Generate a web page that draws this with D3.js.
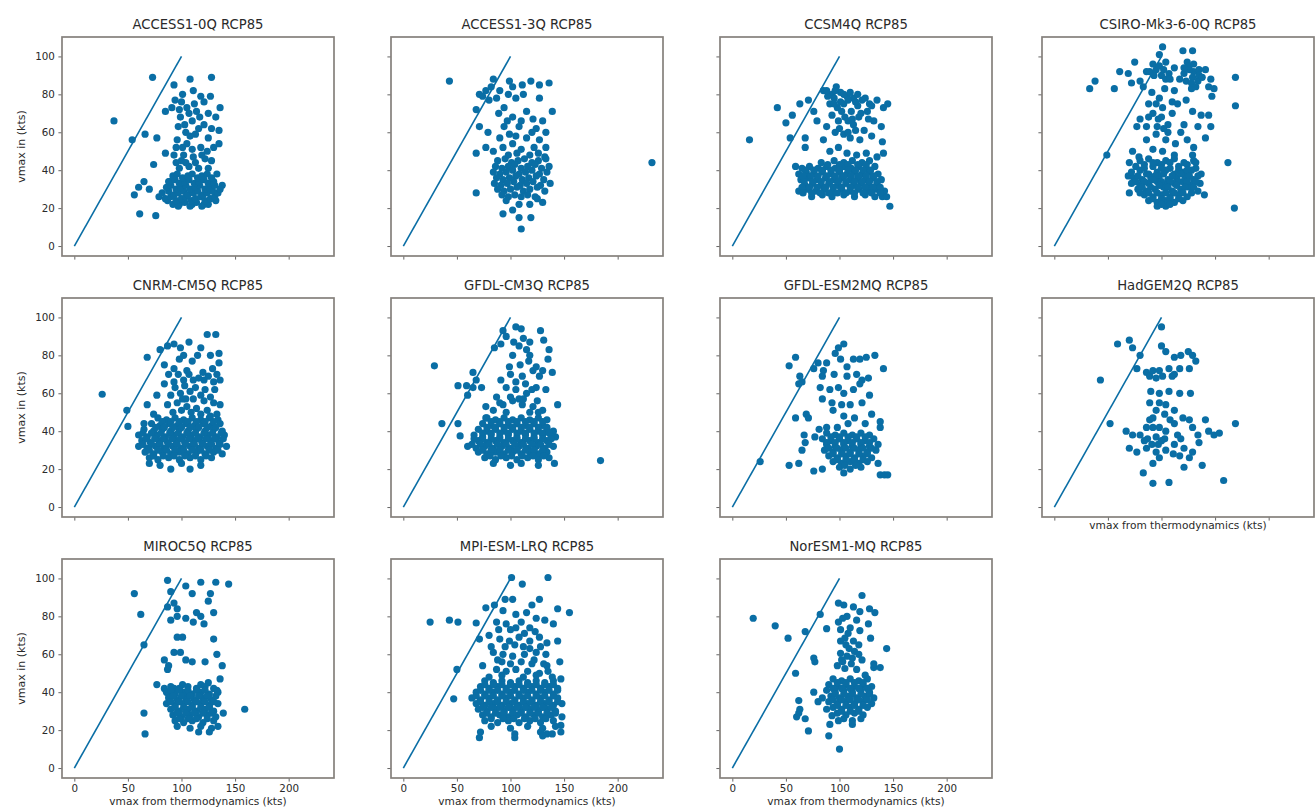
<!DOCTYPE html>
<html>
<head>
<meta charset="utf-8">
<script src="https://cdn.jsdelivr.net/npm/d3@7"></script>
<style>
  html, body { margin: 0; padding: 0; background: #ffffff; }
  svg { display: block; font-family: "DejaVu Sans", sans-serif; }
</style>
</head>
<body>
<svg id="chart" width="1315" height="810"></svg>
<script>
// Model names shown as panel titles
const titles = [
  "ACCESS1-0Q RCP85", "ACCESS1-3Q RCP85", "CCSM4Q RCP85", "CSIRO-Mk3-6-0Q RCP85",
  "CNRM-CM5Q RCP85", "GFDL-CM3Q RCP85", "GFDL-ESM2MQ RCP85", "HadGEM2Q RCP85",
  "MIROC5Q RCP85", "MPI-ESM-LRQ RCP85", "NorESM1-MQ RCP85"
];

const xTicks = [0, 50, 100, 150, 200];
const yTicks = [0, 20, 40, 60, 80, 100];
// reference 1:1 line endpoints (kts)
const oneToOne = [[0, 0], [100, 100]];

// [vmax from thermodynamics, vmax in] pairs (kts) per model
const access10 = [[37,66],[73,89],[108,88],[128,89],[93,85],[54,56],[66,59],[77,57],[85,71],[85,49],[74,43],[56,27],[60,31],[65,34],[70,30],[61,17],[76,16],[79,26],[87,24],[88,34],[98,22],[110,22],[121,22],[132,24],[138,32],[135,54],[136,73],[132,68],[135,61],[127,79],[118,79],[111,82],[101,80],[94,77],[91,73],[105,73],[114,71],[121,76],[99,68],[110,66],[121,64],[104,60],[113,59],[125,57],[96,56],[105,54],[118,52],[130,52],[93,48],[102,48],[111,47],[122,46],[98,41],[107,42],[116,41],[125,41],[133,38],
  [92,22],[97,21],[103,23],[108,21],[114,23],[119,21],[125,22],
  [85,25],[90,26],[95,24],[100,25],[104,26],[109,24],[113,25],[118,26],[122,24],[127,25],[131,26],
  [82,28],[88,29],[93,27],[97,28],[102,29],[106,27],[111,28],[115,29],[120,27],[124,28],[129,29],[134,28],
  [86,31],[90,32],[95,30],[99,31],[104,32],[108,30],[113,31],[117,32],[122,30],[126,31],[131,32],[136,30],
  [89,34],[94,35],[98,33],[103,34],[107,35],[112,33],[116,34],[121,35],[125,33],[130,34],
  [92,37],[96,38],[101,36],[106,37],[110,38],[115,36],[119,37],[124,38],[128,36],
  [97,63],[117,68],[108,58],[100,45],[119,48],[128,45],[95,52],[103,64],[125,70],[112,75],[98,72],
  [100,76],[107,70],[116,62],[128,62],[101,52],[110,51],[124,50],[104,44],[113,44],[95,44]];

const access13 = [[43,87],[232,44],[71,63],[68,72],[68,28],[84,88],[71,80],[77,82],[80,77],[87,78],[94,73],[99,87],[102,84],[105,78],[111,85],[119,87],[127,85],[136,86],[127,78],[139,71],[115,71],[102,68],[121,67],[130,66],[94,63],[108,63],[124,62],[133,60],[90,57],[99,59],[115,57],[127,56],[68,49],[77,52],[84,50],[93,52],[102,54],[110,51],[122,52],[133,52],[132,47],
  [88,45],[95,46],[101,44],[107,45],[113,46],[120,44],[126,45],[133,46],
  [86,42],[92,41],[98,42],[104,43],[110,41],[116,42],[123,43],[129,41],[136,42],
  [84,39],[90,38],[96,39],[102,40],[108,38],[114,39],[120,40],[127,38],[134,39],
  [87,36],[93,35],[99,36],[105,37],[111,35],[117,36],[124,37],[131,35],
  [85,33],[91,32],[97,33],[103,34],[109,32],[115,33],[121,34],[128,32],[137,33],
  [88,30],[94,29],[100,30],[106,31],[112,29],[118,30],[125,31],[132,29],
  [92,27],[98,26],[104,27],[110,26],[116,27],[123,26],
  [93,17],[102,19],[108,22],[110,9],[119,15],[130,23],[125,25],[108,15],[96,24],[118,22],
  [82,84],[90,82],[98,80],[112,80],[89,70],[105,58],[118,48],[74,79],[79,60],
  [98,48],[106,49],[126,49],[97,66],[110,66],[120,60]];

const ccsm4 = [[16,56],[42,73],[50,65],[56,69],[63,75],[71,77],[54,57],[68,57],[68,52],[59,42],[79,66],[76,71],
  [85,82],[93,80],[101,81],[107,79],[113,78],[121,77],[128,75],[135,77],[141,73],[145,75],[91,75],[98,73],[104,75],[111,71],[120,70],[126,71],[132,66],[139,63],[93,69],[99,66],[105,68],[113,64],[88,63],[96,60],[104,59],[110,57],[119,56],[140,55],[85,56],[91,50],[99,52],[107,49],[116,48],[125,49],[135,47],[141,49],
  [95,78],[101,76],[117,74],[108,66],[97,84],[89,79],[123,61],[130,58],
  [83,44],[95,45],[104,44],[112,45],[121,44],[128,45],
  [65,41],[72,42],[80,41],[88,42],[96,41],[104,42],[111,41],[118,42],[125,41],[133,42],
  [62,38],[69,39],[76,38],[84,39],[92,38],[100,39],[107,38],[114,39],[121,38],[128,39],[136,38],
  [64,35],[71,36],[79,35],[87,36],[95,35],[102,36],[110,35],[117,36],[124,35],[131,36],[139,35],
  [68,32],[75,33],[83,32],[90,33],[98,32],[106,33],[113,32],[120,33],[127,32],[135,33],
  [62,29],[70,30],[78,29],[86,30],[94,29],[102,30],[110,29],[118,30],[126,29],[134,30],[142,29],
  [74,26],[84,27],[93,26],[104,27],[114,26],[124,27],[133,26],[140,26],
  [144,26],[147,21],[138,29],
  [89,43],[100,43],[108,43],[117,43],[125,43],
  [68,40],[76,40],[84,40],[92,40],[100,40],[108,40],[115,40],[122,40],[129,40],
  [66,37],[73,37],[80,37],[88,37],[96,37],[104,37],[111,37],[118,37],[125,37],[132,37],
  [67,34],[75,34],[83,34],[91,34],[99,34],[106,34],[114,34],[121,34],[128,34],[135,34],
  [65,31],[72,31],[79,31],[87,31],[94,31],[102,31],[110,31],[117,31],[124,31],[131,31],[138,31],
  [66,28],[74,28],[82,28],[90,28],[98,28],[106,28],[114,28],[122,28],[130,28],[138,28],
  [88,82],[96,82],[104,80],[110,81],[117,80],[124,78],[95,75],[108,77],[115,76],[130,74],[102,71],[118,68],[112,67],[127,67],[100,62],[115,61],[108,60]];

const csiro = [[33,83],[38,87],[56,83],[61,92],[69,91],[75,97],[72,86],[80,87],[86,92],[92,96],[101,105],[98,101],[104,97],[112,94],[120,103],[129,103],[124,97],[130,92],[135,93],[141,93],[146,88],[144,84],[149,83],[147,79],[169,89],[169,74],[162,44],[168,20],[140,27],[49,48],
  [126,93],[129,89],[134,87],[121,91],[123,87],[89,92],[95,93],[100,90],[104,88],[83,84],[91,81],[98,78],[103,83],[112,82],[123,77],[129,71],[137,69],[144,69],[146,63],[134,63],[121,64],[110,70],[101,73],[92,70],[80,67],[77,63],[86,63],[95,59],[104,56],[113,54],[124,56],[130,52],[141,57],[86,56],[92,51],[73,50],[70,44],[79,47],[101,50],[112,48],[129,48],
  [70,28],[69,37],
  [80,45],[88,46],[96,44],[104,45],[112,46],[121,44],[130,45],
  [76,42],[84,41],[92,42],[100,43],[108,41],[116,42],[124,43],[132,41],
  [72,39],[80,40],[88,38],[96,39],[104,40],[112,38],[120,39],[128,40],[137,38],
  [74,36],[82,35],[90,36],[98,37],[106,35],[114,36],[122,37],[130,35],
  [72,33],[80,32],[88,33],[96,34],[104,32],[112,33],[120,34],[128,32],[136,33],
  [78,30],[86,29],[94,30],[102,31],[110,29],[118,30],[126,31],[134,29],
  [84,27],[92,26],[100,27],[108,26],[116,27],[124,26],
  [88,24],[96,23],[104,24],[112,23],[120,24],
  [96,21],[104,21],
  [107,91],[117,88],[128,83],[115,75],[106,64],[118,60],[97,67],[88,75],
  [84,43],[92,44],[100,41],[108,44],[116,40],[124,40],[132,44],
  [78,37],[86,38],[94,37],[102,38],[110,37],[118,38],[126,37],[134,37],
  [76,34],[84,34],[92,35],[100,34],[108,34],[116,34],[124,34],[132,34],
  [82,31],[90,31],[98,32],[106,31],[114,32],[122,31],[130,31],
  [80,28],[88,28],[96,28],[104,28],[112,28],[120,28],[128,28],
  [92,25],[100,25],[108,25],[116,25],[100,22],[108,22],
  [125,95],[130,96],[135,90],[128,86],[138,89],[132,84],[121,94],[93,90],[98,95],[102,93],[108,88],
  [95,75],[100,68],[106,60],[96,63],[110,76],[88,68],[102,62]];

const cnrm = [[26,59.5],[49,51],[50,42.5],[68,79],[80,83],[84,75],[87,85],[93,86],[99,84],[107,87],[102,80],[110,77],[118,84],[127,80],[124,91],[132,91],[135,81],[135,76],[93,73],[105,72],
  [68,54],[77,59],[84,65],[65,44],[74,49],
  [93,66],[102,67],[111,67],[121,67],[130,66],[136,67],[90,59],[99,60],[108,61],[118,59],[127,58],[136,54],[87,54],[96,55],[105,53],[114,52],[124,51],[133,49],
  [78,47],[86,46],[94,47],[102,46],[110,47],[118,46],[126,47],[134,46],
  [72,44],[80,43],[88,44],[96,43],[104,44],[112,43],[120,44],[128,43],[136,44],
  [65,41],[74,40],[82,41],[90,40],[98,41],[106,40],[114,41],[122,40],[130,41],[138,40],
  [60,38],[68,37],[77,38],[85,37],[93,38],[101,37],[109,38],[117,37],[125,38],[133,37],[140,38],
  [63,35],[71,34],[79,35],[87,34],[95,35],[103,34],[111,35],[119,34],[127,35],[135,34],
  [60,32],[68,31],[76,32],[84,31],[92,32],[100,31],[108,32],[116,31],[124,32],[132,31],[142,32],
  [66,29],[74,28],[82,29],[90,28],[98,29],[106,28],[114,29],[122,28],[130,29],[138,28],
  [70,26],[78,25],[88,26],[98,25],[108,26],[118,25],[128,26],
  [70,23],[80,22],[100,23],[118,22],
  [90,20],[108,20],
  [98,78],[115,80],[120,71],[88,70],[129,73],[104,57],
  [82,45],[90,45],[98,45],[106,45],[114,45],[122,45],[130,45],
  [76,42],[84,42],[92,42],[100,42],[108,42],[116,42],[124,42],[132,42],
  [64,39],[72,39],[81,39],[89,39],[97,39],[105,39],[113,39],[121,39],[129,39],[137,39],
  [67,36],[75,36],[83,36],[91,36],[99,36],[107,36],[115,36],[123,36],[131,36],[139,36],
  [64,33],[72,33],[80,33],[88,33],[96,33],[104,33],[112,33],[120,33],[128,33],[136,33],
  [70,30],[78,30],[86,30],[94,30],[102,30],[110,30],[118,30],[126,30],[134,30],
  [74,27],[83,27],[93,27],[103,27],[113,27],[123,27],
  [97,70],[107,70],[116,68],[125,69],[133,70],[94,63],[103,64],[113,63],[122,62],[131,62],[101,57],[111,57],[121,56],[130,55],[92,50],[100,51],[109,50],[118,49],[127,48]];

const gfdlcm3 = [[29,74.5],[36,44],[51,44],[53,37.5],[51,64],[59,64],[60,59],[65,71],[68,67],[73,63],[65,63],
  [85,84],[91,86],[93,93],[96,90],[105,95],[110,94],[108,85],[102,80],[115,83],[118,87],[128,93],[131,88],[136,83],[135,78],[130,72],[139,71],[144,54],[142,37],[141,23],[184,24.5],
  [91,67],[99,74],[111,69],[121,72],[127,69],[87,58],[96,63],[105,62],[115,60],[124,63],[133,62],[77,53],[84,51],[93,54],[102,56],[111,54],[121,53],[130,51],[77,47],
  [78,47],[86,46],[94,47],[102,46],[110,47],[118,46],[126,47],[134,46],
  [74,44],[82,43],[90,44],[98,43],[106,44],[114,43],[122,44],[130,43],
  [70,41],[78,40],[86,41],[94,40],[102,41],[110,40],[118,41],[126,40],[134,41],[140,40],
  [66,38],[74,37],[82,38],[90,37],[98,38],[106,37],[114,38],[122,37],[130,38],[138,37],
  [70,35],[78,34],[86,35],[94,34],[102,35],[110,34],[118,35],[126,34],[134,35],
  [60,32],[68,31],[76,32],[84,31],[92,32],[100,31],[108,32],[116,31],[124,32],[132,31],[140,32],
  [70,29],[78,28],[86,29],[94,28],[102,29],[110,28],[118,29],[126,28],[134,29],
  [76,26],[86,25],[96,26],[106,25],[116,26],[126,25],[136,26],
  [84,23],[100,22],[110,23],[126,22],
  [100,70],[117,77],[108,57],[125,56],[96,50],
  [82,45],[90,45],[98,45],[106,45],[114,45],[122,45],[130,45],
  [78,42],[86,42],[94,42],[102,42],[110,42],[118,42],[126,42],[134,42],
  [74,39],[82,39],[90,39],[98,39],[106,39],[114,39],[122,39],[130,39],[136,39],
  [66,36],[74,36],[82,36],[90,36],[98,36],[106,36],[114,36],[122,36],[130,36],[138,36],
  [64,33],[72,33],[80,33],[88,33],[96,33],[104,33],[112,33],[120,33],[128,33],[136,33],
  [74,30],[82,30],[90,30],[98,30],[106,30],[114,30],[122,30],[130,30],
  [81,27],[91,27],[101,27],[111,27],[121,27],[131,27],
  [105,66],[114,65],[120,62],[100,58],[112,57],[118,50],[126,50],[90,55],[109,75],[103,87],[118,80],[124,74],[112,89]];

const gfdlesm = [[26,24],[53,22],[62,23],[76,19],[84,20],[53,74.5],[59,79],[63,69],[62,65],[65,66],[59,47],[69,49],[71,47],
  [76,73],[80,76],[85,72],[88,76],[96,81],[104,86],[101,78],[107,74],[113,78],[119,78],[125,79],[133,80],[141,73],[107,69],[121,67],[84,69],
  [67,38],[68,34],[65,30],
  [82,63],[91,62],[99,63],[104,60],[113,62],[119,65],[128,59],[84,57],[93,55],[102,54],[110,54],[121,55],[130,49],[138,42],[138,45],[94,51],[104,48],[114,47],[124,44],[81,41],[88,42],[98,42],[77,37],
  [88,39],[96,38],[104,39],[112,38],[120,39],[128,38],
  [84,36],[92,35],[100,36],[108,35],[116,36],[124,35],[132,36],
  [88,33],[96,32],[104,33],[112,32],[120,33],[128,32],[136,33],
  [86,30],[94,29],[102,30],[110,29],[118,30],[126,29],[134,30],
  [90,27],[98,26],[106,27],[114,26],[122,27],[130,26],
  [94,24],[102,23],[110,24],[118,23],[126,24],[136,23],
  [100,21],[110,20],[120,21],
  [104,18],[138,17],[142,17],[145,17],
  [99,84],[116,70],[95,70],[127,68],[108,44],
  [92,37],[100,37],[108,37],[116,37],[124,37],
  [88,34],[96,34],[104,34],[112,34],[120,34],[128,34],
  [90,31],[98,31],[106,31],[114,31],[122,31],[130,31],
  [94,28],[102,28],[110,28],[118,28],[126,28],
  [98,25],[106,25],[114,25],[122,25],[105,22],[115,22]];

const hadgem = [[43,67],[59,86],[70,88],[73,84],[80,80],[77,73],[52,44],[100,95],[100,85],[104,82],[112,79],[118,80],[125,82],[129,80],[132,77],[126,73],[117,73],[112,70],[107,73],
  [86,71],[89,69],[95,68],[92,72],[98,72],[101,69],[110,69],
  [90,61],[98,60],[107,61],[117,60],[127,60],
  [89,55],[98,55],[104,54],[95,51],[103,49],[112,51],
  [89,46],[92,42],[98,42],[104,40],[112,44],[120,47],[126,46],[129,42],[134,38],[141,46],[144,40],[149,38],[154,39],[169,44],[67,40],[73,38],[80,38],[87,36],[95,37],[103,36],[112,33],[121,31],[129,29],[135,34],[70,31],[77,29],[86,31],[95,29],[104,30],[92,23],[98,26],[121,21],[138,22],[83,18],[92,12.5],[107,13],[158,14],
  [86,42],[84,35],[91,33],[97,33],[111,28],[117,27],[126,26],
  [115,38],[108,46],[100,35],[118,36],[92,47]];

const miroc5 = [[56,92],[62,81],[65,65],[65,29],[66,18],[87,99],[90,93],[93,87],[87,85],[96,84],[104,96],[110,92],[118,98],[127,92],[132,98],[144,97],[125,88],
  [90,78],[96,80],[104,79],[111,77],[118,80],[121,76],[114,82],[130,82],
  [96,69],[101,69],[130,68],[133,60],
  [93,61],[99,61],[104,57],[110,56],[122,56],[138,54],[84,57],[88,54],[87,52],
  [77,44],[84,42],[88,39],[93,42],[101,44],[105,40],[118,44],[125,45],[136,47],[133,41],
  [90,43],[98,42],[106,43],[114,42],[122,43],[130,42],
  [86,40],[94,39],[102,40],[110,39],[118,40],[126,39],[134,40],
  [88,37],[96,36],[104,37],[112,36],[120,37],[128,36],
  [86,34],[94,33],[102,34],[110,33],[118,34],[126,33],[134,34],
  [90,31],[98,30],[106,31],[114,30],[122,31],[130,30],
  [92,28],[100,27],[108,28],[116,27],[124,28],[132,27],
  [94,25],[102,24],[110,25],[120,24],[130,25],
  [96,22],[108,21],[118,22],[128,21],[134,22],
  [116,19],[126,19],
  [159,31],[139,29],
  [90,41],[98,41],[106,41],[114,41],[122,41],
  [92,38],[100,38],[108,38],[116,38],[124,38],[132,38],
  [90,35],[98,35],[106,35],[114,35],[122,35],[130,35],
  [94,32],[102,32],[110,32],[118,32],[126,32],
  [96,29],[104,29],[112,29],[120,29],[128,29],
  [98,26],[106,26],[114,26],[124,26]];

const mpi = [[25,77],[43,78],[51,77],[47,36.5],[50,52],[101,100.5],[111,97],[135,100.5],[155,82],[144,84],[127,89],[102,89],[77,84.5],[68,76.5],
  [85,86],[93,83],[105,81],[115,82],[124,79],[132,78],[140,76],[87,77],[96,76],[110,77],[118,74],
  [71,68],[80,70],[90,68],[99,67],[108,69],[118,67],[127,69],[134,66],[144,67],
  [84,61],[93,60],[102,59],[113,60],[124,61],[133,60],[146,56],[134,54],
  [74,54],[87,52],[96,51],[105,52],[116,51],[127,50],[139,48],[147,47],
  [76,46],[84,45],[92,46],[100,45],[108,46],[116,45],[124,46],[132,45],[140,46],
  [72,43],[80,42],[88,43],[96,42],[104,43],[112,42],[120,43],[128,42],[136,43],[144,42],
  [68,40],[76,39],[84,40],[92,39],[100,40],[108,39],[116,40],[124,39],[132,40],[140,39],
  [64,37],[72,36],[80,37],[88,36],[96,37],[104,36],[112,37],[120,36],[128,37],[136,36],[144,37],
  [68,34],[76,33],[84,34],[92,33],[100,34],[108,33],[116,34],[124,33],[132,34],[140,33],[148,34],
  [70,31],[78,30],[86,31],[94,30],[102,31],[110,30],[118,31],[126,30],[134,31],[142,30],
  [74,28],[82,27],[90,28],[98,27],[106,28],[114,27],[122,28],[130,27],[138,28],[148,27],
  [76,25],[88,24],[98,25],[108,24],[118,25],[128,24],[140,25],
  [82,22],[100,21],[116,22],[130,21],[142,22],
  [72,19],[104,18],[128,19],[134,18],[147,19],
  [147,22.5],[139,18],[130,17],[104,16],[71,16],
  [95,89],[120,86],[100,73],[112,64],[82,64],[120,55],[92,56],
  [76,44],[84,44],[92,44],[100,44],[108,44],[116,44],[124,44],[132,44],[140,44],
  [72,41],[80,41],[88,41],[96,41],[104,41],[112,41],[120,41],[128,41],[136,41],[144,41],
  [68,38],[76,38],[84,38],[92,38],[100,38],[108,38],[116,38],[124,38],[132,38],[140,38],
  [72,35],[80,35],[88,35],[96,35],[104,35],[112,35],[120,35],[128,35],[136,35],[144,35],
  [74,32],[82,32],[90,32],[98,32],[106,32],[114,32],[122,32],[130,32],[138,32],
  [78,29],[86,29],[94,29],[102,29],[110,29],[118,29],[126,29],[134,29],[142,29],
  [82,26],[93,26],[103,26],[113,26],[123,26],[133,26],
  [89,73],[105,74],[113,71],[123,72],[95,64],[104,65],[118,63],[128,64],[88,57],[100,55],[110,56],[122,57],[131,55],[80,48],[92,49],[112,48],[124,49],[135,51]];

const noresm = [[19.5,79],[40,75],[52,68.5],[68,72],[82,81],[88,73.5],[76,58],[77,56],[59,50],[62,35.6],[63,31],[68,26],[71,19.6],[90,17],[91,23],[100,10],
  [121,91],[99,87],[104,86],[113,85],[119,82.5],[128,84],[133,82],[107,80],[99,77],[110,74],[119,72.5],[127,76],[129,68.5],[105,68.5],[101,67],[113,67],[144,63],
  [101,60.5],[107,59],[114,61.5],[121,57],[98,54],[105,52.5],[116,52],[124,49],[132,53],[138,53],[132,55],
  [76,40],[80,35],[84,37],[88,31],[93,27.6],[99,25],[60,27],[62,29],
  [94,47],[102,46],[110,47],[118,46],[126,47],
  [90,44],[98,43],[106,44],[114,43],[122,44],[130,43],
  [88,41],[96,40],[104,41],[112,40],[120,41],[128,40],
  [92,38],[100,37],[108,38],[116,37],[124,38],[132,37],
  [90,35],[98,34],[106,35],[114,34],[122,35],[130,34],
  [94,32],[102,31],[110,32],[118,31],[126,32],
  [98,29],[106,28],[114,29],[122,28],
  [104,26],[112,25],[120,26],
  [112,23],
  [103,79],[116,78],[109,63],[118,65],[103,56],[111,55],
  [98,45],[106,45],[114,45],[122,45],
  [94,42],[102,42],[110,42],[118,42],[126,42],
  [96,39],[104,39],[112,39],[120,39],[128,39],
  [94,36],[102,36],[110,36],[118,36],[126,36],
  [98,33],[106,33],[114,33],[122,33],
  [102,30],[110,30],[118,30],
  [101,73],[108,71],[106,65],[112,58],[118,60],[102,57]];

const series = [access10, access13, ccsm4, csiro, cnrm, gfdlcm3, gfdlesm, hadgem, miroc5, mpi, noresm];

// ---- layout ----
const colLeft = [62, 391, 720, 1042];
const rowTop = [37, 298, 559];
const PW = 272, PH = 219;
const xDomain = [-11.5, 242.3];
const yDomain = [-5.25, 110.25];
const markColor = "#0a6ea5";
const textColor = "#2a2a2a";

const svg = d3.select("#chart");

titles.forEach((title, i) => {
  const row = Math.floor(i / 4), col = i % 4;
  const L = colLeft[col], T = rowTop[row];
  const x = d3.scaleLinear().domain(xDomain).range([L, L + PW]);
  const y = d3.scaleLinear().domain(yDomain).range([T + PH, T]);

  const g = svg.append("g");

  // is there a panel underneath this one?
  const hasBelow = (i + 4) < titles.length;
  const bottomRow = row === 2;

  // x axis
  const xAxis = d3.axisBottom(x).tickValues(xTicks).tickSize(3.6).tickPadding(3.2)
    .tickFormat(bottomRow ? d3.format("d") : () => "");
  const gx = g.append("g").attr("transform", `translate(0,${T + PH})`).call(xAxis);
  gx.select(".domain").remove();
  gx.selectAll(".tick line").attr("stroke", "#555").attr("stroke-width", 0.9);
  gx.selectAll(".tick text").attr("fill", textColor).attr("font-size", 10.3)
    .attr("font-family", "DejaVu Sans, sans-serif");

  // y axis
  const yAxis = d3.axisLeft(y).tickValues(yTicks).tickSize(3.6).tickPadding(3.6)
    .tickFormat(col === 0 ? d3.format("d") : () => "");
  const gy = g.append("g").attr("transform", `translate(${L},0)`).call(yAxis);
  gy.select(".domain").remove();
  gy.selectAll(".tick line").attr("stroke", "#555").attr("stroke-width", 0.9);
  gy.selectAll(".tick text").attr("fill", textColor).attr("font-size", 10.3)
    .attr("font-family", "DejaVu Sans, sans-serif");

  // 1:1 reference line
  g.append("path")
    .attr("d", d3.line().x(d => x(d[0])).y(d => y(d[1]))(oneToOne))
    .attr("fill", "none")
    .attr("stroke", markColor)
    .attr("stroke-width", 1.6);

  // scatter points
  g.append("g").selectAll("circle")
    .data(series[i])
    .join("circle")
    .attr("cx", d => x(d[0]))
    .attr("cy", d => y(d[1]))
    .attr("r", 3.6)
    .attr("fill", markColor);

  // frame
  g.append("rect")
    .attr("x", L).attr("y", T).attr("width", PW).attr("height", PH)
    .attr("fill", "none").attr("stroke", "#85807c").attr("stroke-width", 1.7);

  // title
  g.append("text")
    .attr("x", L + PW / 2).attr("y", T - 8)
    .attr("text-anchor", "middle")
    .attr("font-size", 13.2)
    .attr("fill", textColor)
    .text(title);

  // y label on the first column
  if (col === 0) {
    g.append("text")
      .attr("transform", `translate(25,${T + PH / 2}) rotate(-90)`)
      .attr("text-anchor", "middle")
      .attr("font-size", 11)
      .attr("fill", textColor)
      .text("vmax in (kts)");
  }

  // x label on the lowest panel of each column
  if (!hasBelow) {
    g.append("text")
      .attr("x", L + PW / 2)
      .attr("y", bottomRow ? T + PH + 27 : T + PH + 12)
      .attr("text-anchor", "middle")
      .attr("font-size", 10.6)
      .attr("fill", textColor)
      .text("vmax from thermodynamics (kts)");
  }
});
</script>
</body>
</html>
